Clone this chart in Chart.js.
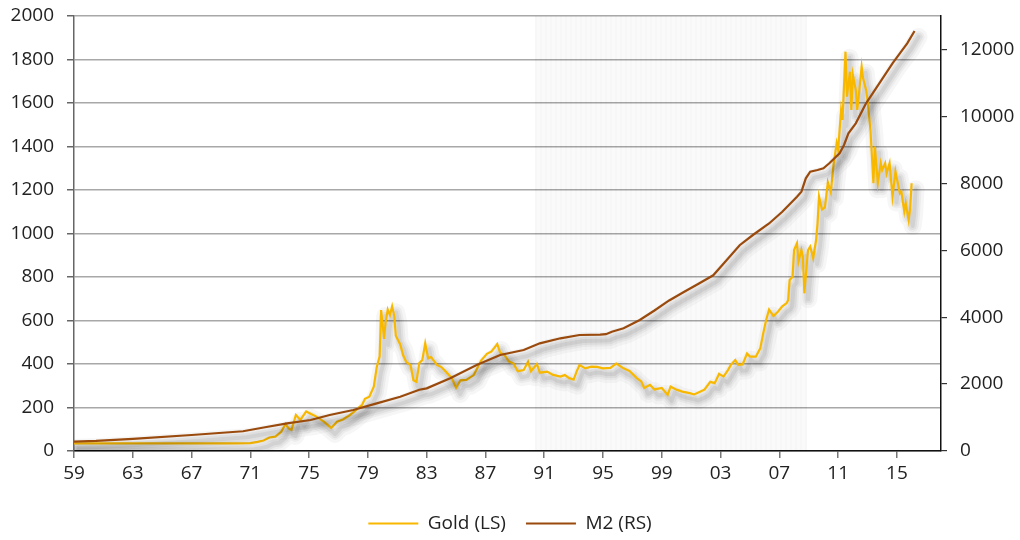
<!DOCTYPE html>
<html>
<head>
<meta charset="utf-8">
<title>Gold vs M2</title>
<script src="https://cdn.jsdelivr.net/npm/chart.js@4.4.1/dist/chart.umd.min.js"></script>
<style>
  html, body { margin: 0; padding: 0; background: #ffffff; }
  #wrap { width: 1020px; height: 540px; position: relative; }
</style>
</head>
<body>
<div id="wrap"><canvas id="chart" width="1020" height="540"></canvas></div>
<script>
// Gold price, USD per ounce (left scale)
const goldYears = [
  1959.0, 1962.0, 1965.0, 1968.0, 1970.0, 1971.0, 1971.5, 1971.9, 1972.3, 1972.7,
  1973.1, 1973.4, 1973.6, 1973.8, 1974.1, 1974.4, 1974.8, 1975.2, 1975.5, 1976.0,
  1976.5, 1976.9, 1977.3, 1977.7, 1978.0, 1978.3, 1978.6, 1978.8, 1979.1, 1979.4,
  1979.6, 1979.8, 1979.9, 1980.1, 1980.2, 1980.35, 1980.5, 1980.65, 1980.8, 1980.9,
  1981.2, 1981.4, 1981.6, 1981.9, 1982.1, 1982.3, 1982.5, 1982.7, 1982.9, 1983.1,
  1983.3, 1983.7, 1984.0, 1984.3, 1984.7, 1985.0, 1985.3, 1985.7, 1986.2, 1986.5,
  1986.7, 1987.1, 1987.4, 1987.8, 1988.0, 1988.3, 1988.6, 1988.9, 1989.2, 1989.6,
  1989.9, 1990.1, 1990.5, 1990.7, 1991.2, 1991.6, 1992.1, 1992.4, 1992.7, 1993.0,
  1993.2, 1993.4, 1993.8, 1994.2, 1994.6, 1995.0, 1995.5, 1995.9, 1996.4, 1996.8,
  1997.3, 1997.6, 1997.8, 1998.2, 1998.5, 1999.0, 1999.4, 1999.6, 2000.0, 2000.4,
  2000.9, 2001.2, 2001.6, 2001.9, 2002.3, 2002.6, 2002.9, 2003.2, 2003.5, 2003.7,
  2004.0, 2004.2, 2004.5, 2004.8, 2005.0, 2005.4, 2005.7, 2005.9, 2006.1, 2006.3,
  2006.6, 2006.9, 2007.2, 2007.5, 2007.6, 2007.7, 2007.9, 2008.0, 2008.2, 2008.3,
  2008.5, 2008.6, 2008.7, 2008.95, 2009.1, 2009.3, 2009.5, 2009.6, 2009.7, 2009.9,
  2010.1, 2010.3, 2010.5, 2010.7, 2010.9, 2011.0, 2011.2, 2011.3, 2011.5, 2011.6,
  2011.8, 2011.9, 2012.0, 2012.2, 2012.3, 2012.4, 2012.6, 2012.7, 2012.9, 2013.0,
  2013.2, 2013.4, 2013.5, 2013.7, 2013.9, 2014.0, 2014.2, 2014.3, 2014.5, 2014.7,
  2014.9, 2015.2, 2015.3, 2015.5, 2015.6, 2015.8, 2015.9, 2016.0
];
const goldPrices = [
  35, 35, 35, 35, 35, 36, 42, 48, 62, 66,
  88, 125, 104, 97, 166, 143, 182, 168, 158, 135,
  106, 135, 145, 162, 178, 195, 212, 240, 250, 296,
  385, 435, 648, 515, 590, 650, 625, 665, 618, 530,
  490, 440, 410, 395, 325, 318, 405, 418, 495, 426,
  432, 396, 386, 365, 336, 290, 325, 327, 349, 388,
  416, 447, 457, 492, 452, 441, 411, 403, 367, 372,
  410, 367, 400, 360, 365, 350, 342, 349, 335, 328,
  365, 395, 380, 388, 387, 380, 382, 402, 380, 368,
  335, 320, 290, 304, 283, 290, 258, 296, 282, 273,
  266, 260, 272, 282, 318, 312, 355, 342, 372, 396,
  418, 396, 398, 448, 434, 434, 472, 540, 602, 650,
  620, 640, 665, 680, 694, 786, 801, 924, 955, 870,
  924, 893, 725, 924, 940, 886, 970, 1047, 1170, 1110,
  1120, 1235, 1190, 1323, 1415, 1384, 1568, 1522, 1836, 1629,
  1744, 1568, 1729, 1660, 1568, 1629, 1767, 1713, 1660, 1614,
  1476, 1231, 1400, 1231, 1323, 1292, 1323, 1277, 1323, 1170,
  1285, 1185, 1193, 1101, 1139, 1062, 1116, 1231
];

// M2 money stock, USD bn (right scale)
const m2Years = [
  1959.0, 1960.5, 1963.0, 1967.0, 1970.5, 1972.0, 1973.5, 1975.1, 1976.4, 1978.0,
  1979.6, 1981.2, 1982.5, 1983.0, 1984.6, 1986.4, 1988.0, 1989.6, 1990.7, 1992.1,
  1993.4, 1994.8, 1995.2, 1995.6, 1996.4, 1997.5, 1998.5, 1999.5, 2000.5, 2001.5,
  2002.5, 2003.3, 2004.3, 2005.2, 2006.3, 2007.2, 2008.2, 2008.5, 2008.8, 2009.1,
  2009.6, 2010.0, 2010.4, 2011.1, 2011.4, 2011.7, 2012.2, 2012.9, 2013.8, 2014.7,
  2015.2, 2015.7, 2016.2
];
const m2Values = [
  280, 300, 360, 478, 590, 710, 827, 926, 1076, 1225,
  1424, 1623, 1830, 1873, 2172, 2570, 2869, 3018, 3218, 3368,
  3467, 3480, 3490, 3566, 3666, 3915, 4200, 4500, 4750, 5000,
  5250, 5650, 6150, 6455, 6800, 7150, 7600, 7749, 8149, 8348,
  8398, 8448, 8598, 8897, 9145, 9494, 9793, 10391, 10989, 11587,
  11886, 12184, 12552
];

// Axis ticks
const yearTicks = [1959, 1963, 1967, 1971, 1975, 1979, 1983, 1987, 1991, 1995, 1999, 2003, 2007, 2011, 2015];
const yearTickLabels = ['59', '63', '67', '71', '75', '79', '83', '87', '91', '95', '99', '03', '07', '11', '15'];
const goldTicks = [0, 200, 400, 600, 800, 1000, 1200, 1400, 1600, 1800, 2000];
const m2Ticks = [0, 2000, 4000, 6000, 8000, 10000, 12000];

// Highlighted period on the time axis
const shadedPeriod = [1990.4, 2008.9];

const GOLD = '#F9B800';
const BROWN = '#9A4A0C';
const FONT = '"Open Sans", "Noto Sans", sans-serif';
const FONT_SIZE = 19;

const pairs = (xs, ys) => xs.map((x, i) => ({ x: x, y: ys[i] }));
const plain = v => String(v);

// Vertical axes: fixed width, no extra room reserved for half label heights
const fitVertical = width => s => {
  s.width = width;
  s.paddingTop = 0;
  s.paddingBottom = 0;
};

// Faint striped band behind the lines
const bandPlugin = {
  id: 'band',
  beforeDatasetsDraw(chart) {
    const { ctx, chartArea, scales } = chart;
    const x0 = Math.round(scales.x.getPixelForValue(shadedPeriod[0]));
    const x1 = Math.round(scales.x.getPixelForValue(shadedPeriod[1]));
    const h = chartArea.bottom - chartArea.top;
    ctx.save();
    ctx.fillStyle = 'rgba(0,0,0,0.02)';
    ctx.fillRect(x0, chartArea.top, x1 - x0, h);
    ctx.fillStyle = 'rgba(0,0,0,0.014)';
    for (let x = x0; x < x1; x += 5) {
      ctx.fillRect(x, chartArea.top, 2, h);
    }
    ctx.restore();
  }
};

// Soft grey drop shadow under each line, built from a few wide translucent strokes
const shadowPlugin = {
  id: 'lineShadow',
  beforeDatasetDraw(chart, args) {
    const { ctx, chartArea } = chart;
    const pts = args.meta.data;
    if (!pts || pts.length < 2) return;
    ctx.save();
    ctx.beginPath();
    ctx.rect(chartArea.left, chartArea.top, chartArea.right - chartArea.left, chartArea.bottom - chartArea.top);
    ctx.clip();
    ctx.translate(4, 6);
    ctx.lineJoin = 'round';
    ctx.lineCap = 'round';
    const passes = [[18, 0.035], [12, 0.045], [8, 0.055], [4, 0.065]];
    for (const [w, a] of passes) {
      ctx.beginPath();
      pts.forEach((p, i) => { if (i === 0) ctx.moveTo(p.x, p.y); else ctx.lineTo(p.x, p.y); });
      ctx.lineWidth = w;
      ctx.strokeStyle = 'rgba(0,0,0,' + a + ')';
      ctx.stroke();
    }
    ctx.restore();
  }
};

new Chart(document.getElementById('chart'), {
  type: 'line',
  data: {
    datasets: [
      {
        label: 'Gold (LS)',
        data: pairs(goldYears, goldPrices),
        yAxisID: 'y',
        borderColor: GOLD,
        backgroundColor: GOLD,
        borderWidth: 2.2,
        pointRadius: 0,
        tension: 0,
        order: 1
      },
      {
        label: 'M2 (RS)',
        data: pairs(m2Years, m2Values),
        yAxisID: 'y1',
        borderColor: BROWN,
        backgroundColor: BROWN,
        borderWidth: 2.2,
        pointRadius: 0,
        tension: 0,
        order: 0
      }
    ]
  },
  options: {
    responsive: false,
    animation: false,
    devicePixelRatio: 1,
    layout: { padding: { top: 16, left: 0, right: 0, bottom: -3 } },
    plugins: {
      tooltip: { enabled: false },
      legend: {
        position: 'bottom',
        labels: {
          usePointStyle: true,
          pointStyle: 'line',
          pointStyleWidth: 50,
          padding: 20,
          color: '#222',
          font: { family: FONT, size: FONT_SIZE },
          sort: (a, b) => a.datasetIndex - b.datasetIndex
        }
      }
    },
    scales: {
      x: {
        type: 'linear',
        min: 1959,
        max: 2018,
        afterBuildTicks: s => { s.ticks = yearTicks.map(v => ({ value: v })); },
        afterFit: s => { s.height = 43; },
        ticks: {
          autoSkip: false,
          maxRotation: 0,
          padding: 4,
          color: '#222',
          font: { family: FONT, size: FONT_SIZE },
          callback: (v) => yearTickLabels[yearTicks.indexOf(v)]
        },
        grid: { drawOnChartArea: false, drawTicks: true, tickLength: 7, color: '#777', lineWidth: 1.5 },
        border: { color: '#111', width: 1.5 }
      },
      y: {
        position: 'left',
        min: 0,
        max: 2000,
        afterBuildTicks: s => { s.ticks = goldTicks.map(v => ({ value: v })); },
        afterFit: fitVertical(74),
        ticks: {
          padding: 13,
          color: '#222',
          font: { family: FONT, size: FONT_SIZE },
          callback: plain
        },
        grid: { color: '#a8a8a8', lineWidth: 1.5, drawTicks: true, tickLength: 7, tickColor: '#666' },
        border: { color: '#666', width: 1.5 }
      },
      y1: {
        position: 'right',
        min: 0,
        max: 13000,
        afterBuildTicks: s => { s.ticks = m2Ticks.map(v => ({ value: v })); },
        afterFit: fitVertical(79),
        ticks: {
          padding: 13,
          color: '#222',
          font: { family: FONT, size: FONT_SIZE },
          callback: plain
        },
        grid: { drawOnChartArea: false, drawTicks: true, tickLength: 6, color: '#333', lineWidth: 1.2 },
        border: { color: '#111', width: 1.5 }
      }
    }
  },
  plugins: [bandPlugin, shadowPlugin]
});
</script>
</body>
</html>
